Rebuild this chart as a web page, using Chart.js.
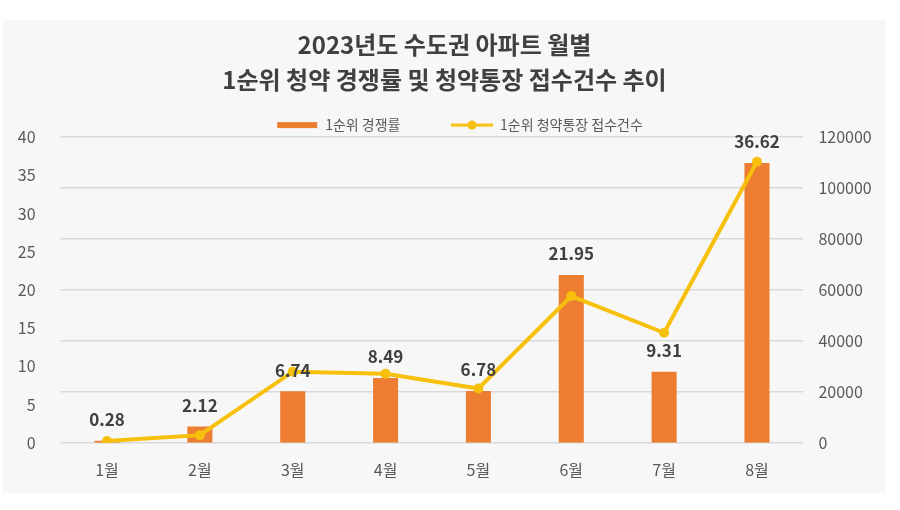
<!DOCTYPE html>
<html>
<head>
<meta charset="utf-8">
<script src="https://cdn.jsdelivr.net/npm/chart.js@4"></script>
<style>
    body { margin: 0; background: #ffffff; }
    #box {
        position: absolute;
        left: 3px;
        top: 20px;
        width: 883px;
        height: 473px;
        background: #f7f7f7;
    }
</style>
</head>
<body>
<div id="box"><canvas id="combo"></canvas></div>
<script>
var months = ["1월", "2월", "3월", "4월", "5월", "6월", "7월", "8월"];
var rate = [0.28, 2.12, 6.74, 8.49, 6.78, 21.95, 9.31, 36.62];
var applications = [700, 3000, 27900, 27100, 21300, 57600, 43200, 110300];
var rateTicks = [0, 5, 10, 15, 20, 25, 30, 35, 40];
var countTicks = [0, 20000, 40000, 60000, 80000, 100000, 120000];

var barColor = "#ED7D31";
var lineColor = "#F7C00C";
var fontName = "'Noto Sans CJK KR', 'Noto Sans', sans-serif";

// little pictures for the legend (blank space on the left keeps the items apart)
function legendIcon(kind) {
    var c = document.createElement("canvas");
    c.width = 72;
    c.height = 10;
    var g = c.getContext("2d");
    if (kind == "bar") {
        g.fillStyle = barColor;
        g.fillRect(31, 2, 40, 6);
    } else {
        g.strokeStyle = lineColor;
        g.lineWidth = 3;
        g.beginPath();
        g.moveTo(30, 5);
        g.lineTo(72, 5);
        g.stroke();
        g.fillStyle = lineColor;
        g.beginPath();
        g.arc(51, 5, 4.5, 0, Math.PI * 2);
        g.fill();
    }
    return c;
}
var icons = [legendIcon("bar"), legendIcon("line")];

// value above each bar
var barLabels = {
    id: "barLabels",
    afterDatasetsDraw(chart) {
        var meta = chart.getDatasetMeta(0);
        var ctx = chart.ctx;
        ctx.save();
        ctx.font = "bold 17px " + fontName;
        ctx.fillStyle = "#404040";
        ctx.textAlign = "center";
        ctx.textBaseline = "middle";
        meta.data.forEach((bar, i) => {
            ctx.fillText(rate[i].toFixed(2), bar.x, bar.y - 21);
        });
        ctx.restore();
    },
};

// legend is a bit shorter than chart.js makes it
var legendFit = {
    id: "legendFit",
    beforeInit(chart) {
        var fit = chart.legend.fit;
        chart.legend.fit = function () {
            fit.bind(chart.legend)();
            this.height -= 5;
        };
    },
};

new Chart(document.getElementById("combo"), {
    data: {
        labels: months,
        datasets: [
            {
                type: "bar",
                label: "1순위 경쟁률",
                data: rate,
                backgroundColor: barColor,
                yAxisID: "y",
                order: 1,
                barPercentage: 0.54,
                categoryPercentage: 0.5,
            },
            {
                type: "line",
                label: "1순위 청약통장 접수건수",
                data: applications,
                borderColor: lineColor,
                backgroundColor: lineColor,
                borderWidth: 4,
                pointRadius: 5,
                pointBackgroundColor: lineColor,
                pointBorderWidth: 0,
                tension: 0,
                yAxisID: "y2",
                order: 0,
            },
        ],
    },
    options: {
        responsive: true,
        maintainAspectRatio: false,
        animation: false,
        layout: {
            padding: { top: 0, bottom: 3, left: 0, right: 0 },
        },
        scales: {
            x: {
                grid: { display: false },
                border: { display: false },
                ticks: {
                    color: "#595959",
                    font: { family: fontName, size: 16 },
                    padding: 10,
                },
            },
            y: {
                position: "left",
                min: 0,
                max: 40,
                afterBuildTicks: (axis) => {
                    axis.ticks = rateTicks.map((v) => ({ value: v }));
                },
                afterFit: (axis) => {
                    axis.width = 57.6;
                },
                grid: { display: false },
                border: { display: false },
                ticks: {
                    color: "#595959",
                    font: { family: fontName, size: 16 },
                    padding: 17,
                },
            },
            y2: {
                position: "right",
                min: 0,
                max: 120000,
                afterBuildTicks: (axis) => {
                    axis.ticks = countTicks.map((v) => ({ value: v }));
                },
                afterFit: (axis) => {
                    axis.width = 82.6;
                },
                grid: { color: "#d9d9d9", lineWidth: 1.5, drawTicks: false },
                border: { display: false },
                ticks: {
                    color: "#595959",
                    font: { family: fontName, size: 16 },
                    padding: 15,
                    callback: (value) => String(value),
                },
            },
        },
        plugins: {
            title: {
                display: true,
                text: ["2023년도 수도권 아파트 월별", "1순위 청약 경쟁률 및 청약통장 접수건수 추이"],
                color: "#404040",
                font: { family: fontName, size: 24, weight: "bold", lineHeight: 1.46 },
                padding: { top: 7.5, bottom: 0 },
            },
            legend: {
                position: "top",
                labels: {
                    usePointStyle: true,
                    pointStyleWidth: 72,
                    color: "#595959",
                    font: { family: fontName, size: 14 },
                    padding: 20.5,
                    sort: (a, b) => a.datasetIndex - b.datasetIndex,
                    generateLabels: (chart) => {
                        var items = Chart.defaults.plugins.legend.labels.generateLabels(chart);
                        items.forEach((item) => {
                            item.pointStyle = icons[item.datasetIndex];
                        });
                        return items;
                    },
                },
            },
            tooltip: { enabled: true },
        },
    },
    plugins: [barLabels, legendFit],
});
</script>
</body>
</html>
